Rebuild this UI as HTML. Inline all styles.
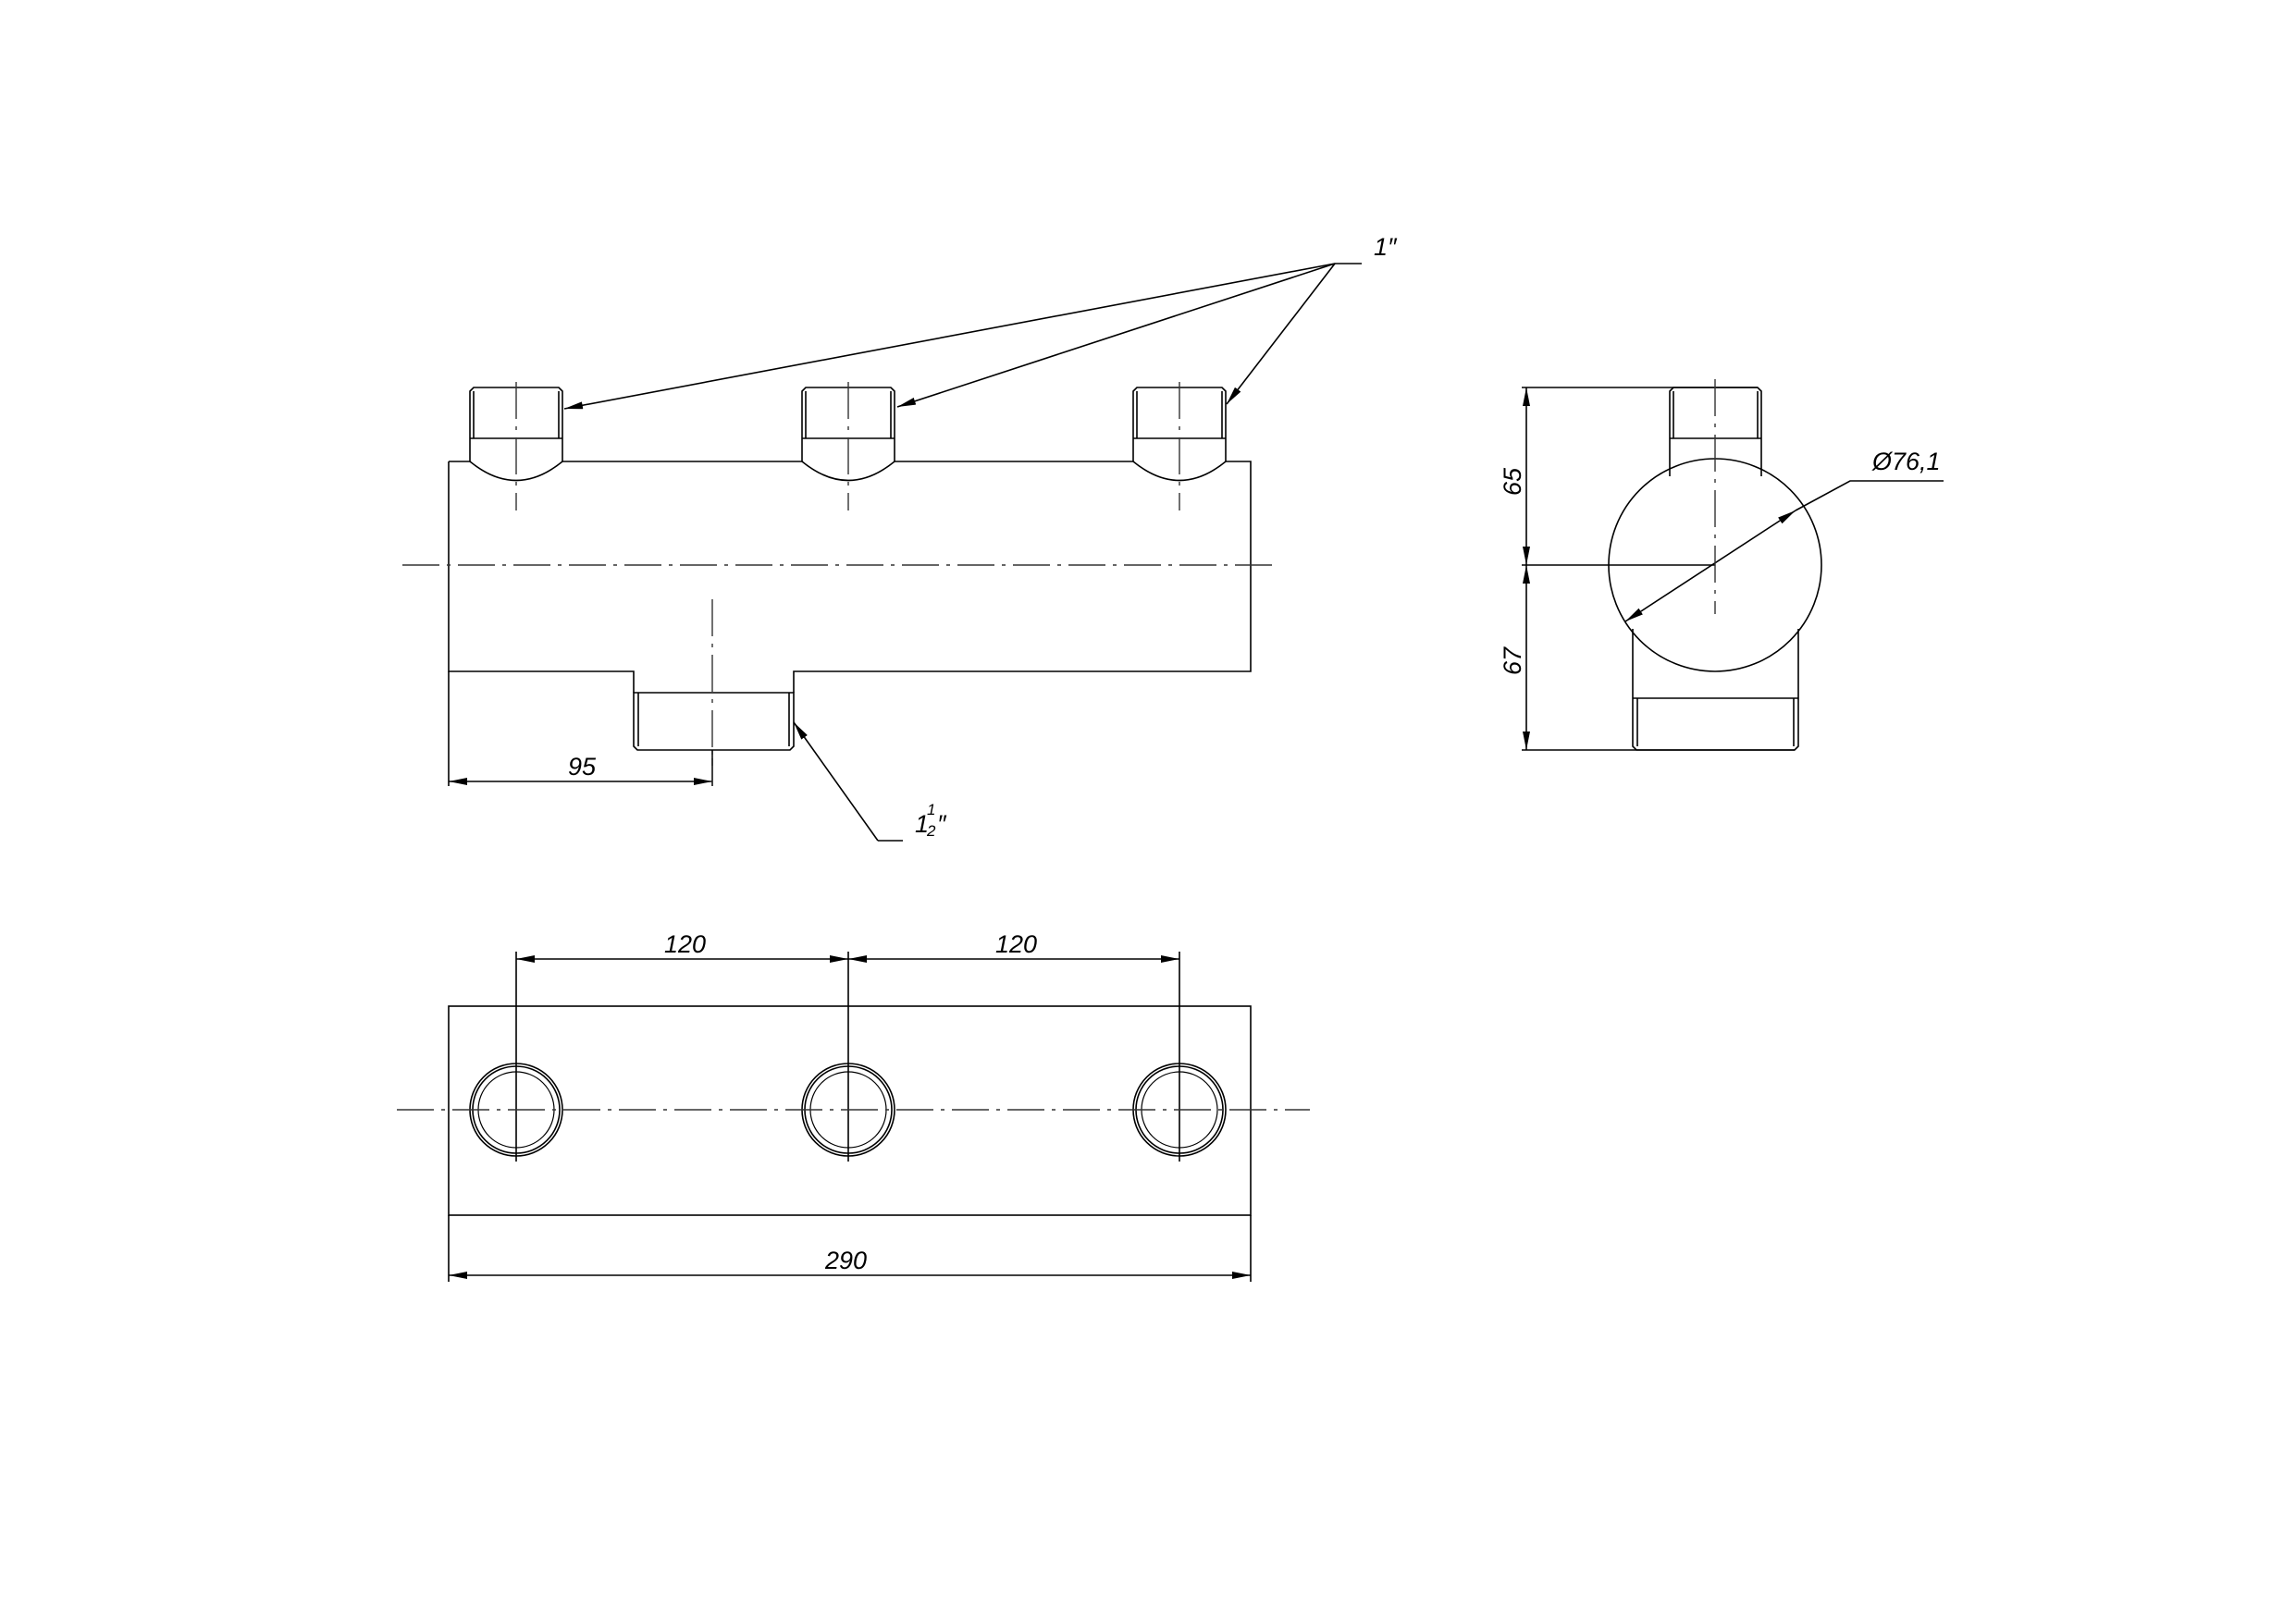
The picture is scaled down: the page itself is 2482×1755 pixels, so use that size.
<!DOCTYPE html>
<html><head><meta charset="utf-8"><style>html,body{margin:0;padding:0;background:#fff}svg{display:block}</style></head>
<body>
<svg width="2482" height="1755" viewBox="0 0 2482 1755" xmlns="http://www.w3.org/2000/svg" font-family="Liberation Sans, sans-serif" font-style="italic">
<defs>
<marker id="a" viewBox="0 0 20 8" refX="20" refY="4" markerWidth="20" markerHeight="8" markerUnits="userSpaceOnUse" orient="auto-start-reverse"><path d="M0,0 L20,4 L0,8 z" fill="#000"/></marker>
</defs>
<g fill="none" stroke="#000" stroke-width="1.6">
<!-- FRONT VIEW -->
<path d="M485,499 H508 M608,499 H867 M967,499 H1225 M1325,499 H1352 V726 H858 V749 M685,749 V726 H485 V499"/>
<path d="M485,726 V850"/>
<g id="n1">
<path d="M508,499 V423 L512,419 H604 L608,423 V499"/>
<path d="M512,423 V474 M604,423 V474 M508,474 H608"/>
<path d="M508,499 Q558,540 608,499"/>
</g>
<use href="#n1" transform="translate(359,0)"/>
<use href="#n1" transform="translate(717,0)"/>
<path d="M685,749 H858 V807 L854,811 H689 L685,807 Z"/>
<path d="M690,749 V807 M853,749 V807"/>
<path d="M770,811 V850"/>
<path d="M485,845 H770" marker-start="url(#a)" marker-end="url(#a)"/>
<path d="M949,909 L858,781" marker-end="url(#a)"/>
<path d="M949,909 H976"/>
<path d="M1443,285 H1472"/>
<path d="M1443,285 L610,442" marker-end="url(#a)"/>
<path d="M1443,285 L970,440" marker-end="url(#a)"/>
<path d="M1443,285 L1326,437" marker-end="url(#a)"/>
<!-- SIDE VIEW -->
<circle cx="1854" cy="611" r="115"/>
<path d="M1805,515 V423 L1809,419 H1900 L1904,423 V515"/>
<path d="M1809,423 V474 M1900,423 V474 M1805,474 H1904"/>
<path d="M1765,680 V807 L1769,811 H1940 L1944,807 V680"/>
<path d="M1770,755 V807 M1939,755 V807 M1765,755 H1944"/>
<path d="M1645,419 H1900 M1645,611 H1854 M1645,811 H1940"/>
<path d="M1650,419 V611" marker-start="url(#a)" marker-end="url(#a)"/>
<path d="M1650,611 V811" marker-start="url(#a)" marker-end="url(#a)"/>
<path d="M1757,672 L1941,552" marker-start="url(#a)" marker-end="url(#a)"/>
<path d="M1941,552 L2000,520 H2101"/>
<!-- TOP VIEW -->
<rect x="485" y="1088" width="867" height="226"/>
<path d="M485,1314 V1386 M1352,1314 V1386"/>
<path d="M485,1379 H1352" marker-start="url(#a)" marker-end="url(#a)"/>
<path d="M558,1029 V1256 M917,1029 V1256 M1275,1029 V1256"/>
<path d="M558,1037 H917" marker-start="url(#a)" marker-end="url(#a)"/>
<path d="M917,1037 H1275" marker-start="url(#a)" marker-end="url(#a)"/>
<g id="h"><circle cx="558" cy="1200" r="50"/><circle cx="558" cy="1200" r="47"/><circle cx="558" cy="1200" r="41" stroke-width="1.2"/></g>
<use href="#h" transform="translate(359,0)"/>
<use href="#h" transform="translate(717,0)"/>
</g>
<g fill="none" stroke="#333" stroke-width="1.4" stroke-dasharray="40,8,4,8">
<path d="M435,611 H1376"/>
<path d="M558,413 V552 M917,413 V552 M1275,413 V552"/>
<path d="M770,648 V850"/>
<path d="M1854,410 V664"/>
<path d="M429,1200 H1416"/>
</g>
<g font-size="27" fill="#000">
<text x="614" y="838">95</text>
<text x="1485" y="276">1″</text>
<text x="989" y="900">1</text>
<text x="1002" y="881" font-size="17">1</text>
<text x="1002" y="904" font-size="17">2</text>
<text x="1013" y="900">″</text>
<text x="2024" y="508">Ø76,1</text>
<text x="718" y="1030">120</text>
<text x="1076" y="1030">120</text>
<text x="892" y="1372">290</text>
<text transform="translate(1644,536) rotate(-90)">65</text>
<text transform="translate(1644,730) rotate(-90)">67</text>
</g>
</svg>
</body></html>
